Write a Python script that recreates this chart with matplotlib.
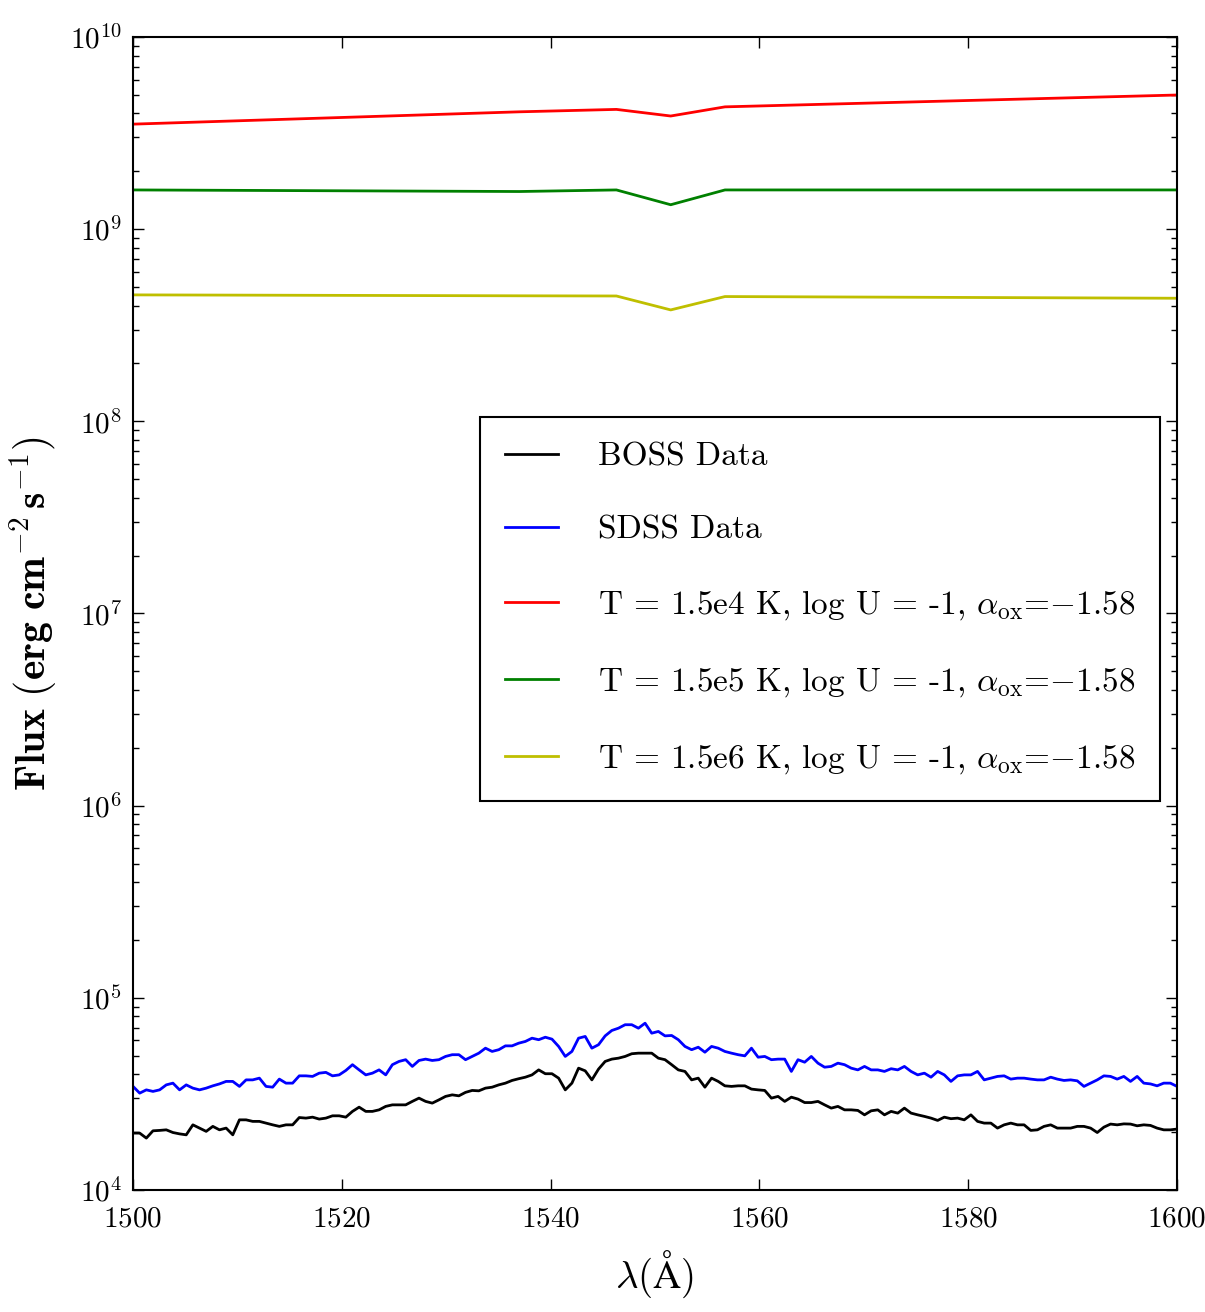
import numpy as np
import matplotlib
matplotlib.use("Agg")
import matplotlib.pyplot as plt
from matplotlib.ticker import FuncFormatter, LogLocator, FixedLocator, NullLocator

# ---------------- data ----------------
wl_min, wl_max, n_pix = 1500.0, 1600.0, 158

boss_log_flux = [
    4.296, 4.296, 4.270, 4.308, 4.310, 4.313, 4.299, 4.292, 4.287, 4.339,
    4.322, 4.305, 4.331, 4.313, 4.322, 4.287, 4.365, 4.365, 4.357, 4.357,
    4.348, 4.339, 4.331, 4.339, 4.339, 4.377, 4.374, 4.379, 4.369, 4.374,
    4.386, 4.386, 4.379, 4.409, 4.431, 4.409, 4.409, 4.417, 4.435, 4.443,
    4.443, 4.443, 4.461, 4.478, 4.461, 4.452, 4.469, 4.487, 4.495, 4.490,
    4.508, 4.518, 4.516, 4.530,
    4.535, 4.547, 4.556, 4.570, 4.579, 4.587, 4.599, 4.625, 4.605, 4.605,
    4.582, 4.521, 4.556, 4.634, 4.620, 4.573, 4.629, 4.669, 4.681, 4.686,
    4.695, 4.709, 4.712, 4.712, 4.712, 4.686, 4.678, 4.652, 4.625, 4.617,
    4.573, 4.582, 4.535, 4.582, 4.565, 4.542, 4.539, 4.542, 4.542, 4.525,
    4.521, 4.518, 4.478, 4.487, 4.461, 4.483, 4.473, 4.455, 4.455, 4.461,
    4.443, 4.426, 4.435,
    4.417, 4.417, 4.414, 4.391, 4.412, 4.417, 4.391, 4.409, 4.400, 4.426,
    4.400, 4.391, 4.383, 4.374, 4.362, 4.379, 4.371, 4.374, 4.365, 4.391,
    4.357, 4.348, 4.348, 4.322, 4.339, 4.348, 4.339, 4.339, 4.310, 4.313,
    4.331, 4.339, 4.322, 4.322, 4.322, 4.331, 4.331, 4.322, 4.299, 4.327,
    4.343, 4.339, 4.344, 4.343, 4.334, 4.339, 4.336, 4.322, 4.313, 4.313,
    4.317,
]

sdss_log_flux = [
    4.539, 4.504, 4.521, 4.513, 4.521, 4.547, 4.556, 4.521, 4.547, 4.530,
    4.521, 4.530, 4.542, 4.552, 4.565, 4.565, 4.539, 4.573, 4.573, 4.582,
    4.539, 4.535, 4.577, 4.556, 4.556, 4.594, 4.594, 4.591, 4.608, 4.612,
    4.594, 4.599, 4.622, 4.652, 4.625, 4.599, 4.608, 4.625, 4.599, 4.652,
    4.669, 4.678, 4.643, 4.674, 4.681, 4.674, 4.678, 4.695, 4.704, 4.704,
    4.678, 4.695, 4.712, 4.738,
    4.721, 4.730, 4.750, 4.750, 4.764, 4.773, 4.790, 4.782, 4.795, 4.785,
    4.747, 4.695, 4.721, 4.790, 4.799, 4.738, 4.756, 4.802, 4.830, 4.842,
    4.860, 4.860, 4.842, 4.868, 4.816, 4.825, 4.802, 4.804, 4.782, 4.747,
    4.730, 4.743, 4.717, 4.747, 4.738, 4.721, 4.712, 4.704, 4.698, 4.738,
    4.691, 4.695, 4.678, 4.681, 4.681, 4.617, 4.678, 4.665, 4.695, 4.660,
    4.639, 4.643, 4.660,
    4.652, 4.634, 4.625, 4.643, 4.625, 4.625, 4.617, 4.631, 4.625, 4.643,
    4.617, 4.599, 4.608, 4.587, 4.617, 4.599, 4.565, 4.594, 4.599, 4.599,
    4.617, 4.573, 4.582, 4.591, 4.594, 4.577, 4.582, 4.582, 4.577, 4.573,
    4.573, 4.587, 4.577, 4.570, 4.573, 4.568, 4.539, 4.556, 4.573, 4.594,
    4.591, 4.577, 4.591, 4.565, 4.591, 4.556, 4.552, 4.542, 4.556, 4.556,
    4.539,
]

model_wavelength = [1500.0, 1537.0, 1546.3, 1551.5, 1556.7, 1600.0]
model_t15e4 = [3.52e9, 4.08e9, 4.20e9, 3.88e9, 4.33e9, 4.99e9]
model_t15e5 = [1.60e9, 1.57e9, 1.60e9, 1.34e9, 1.60e9, 1.60e9]
model_t15e6 = [4.55e8, 4.50e8, 4.49e8, 3.80e8, 4.46e8, 4.37e8]

labels = [
    "BOSS Data",
    "SDSS Data",
    r"T = 1.5e4 K, log U = -1, $\alpha_{\rm ox}$=$-1.58$",
    r"T = 1.5e5 K, log U = -1, $\alpha_{\rm ox}$=$-1.58$",
    r"T = 1.5e6 K, log U = -1, $\alpha_{\rm ox}$=$-1.58$",
]
colors = ["k", "b", "r", "g", (0.75, 0.75, 0.0)]

x_ticks = [1500, 1520, 1540, 1560, 1580, 1600]

# ---------------- style ----------------
plt.rcParams["font.family"] = ["cmr10", "DejaVu Serif"]
plt.rcParams["mathtext.fontset"] = "cm"
plt.rcParams["axes.unicode_minus"] = False
plt.rcParams["axes.formatter.use_mathtext"] = True

wavelength = np.linspace(wl_min, wl_max, n_pix)
boss = 10 ** np.array(boss_log_flux)
sdss = 10 ** np.array(sdss_log_flux)

fig = plt.figure(figsize=(12.05, 13.12), dpi=100)
ax = fig.add_axes([0.1104, 0.0930, 0.8664, 0.8788])

lw = 2.0
ax.plot(wavelength, boss, color=colors[0], lw=lw, label=labels[0])
ax.plot(wavelength, sdss, color=colors[1], lw=lw, label=labels[1])
ax.plot(model_wavelength, model_t15e4, color=colors[2], lw=lw, label=labels[2])
ax.plot(model_wavelength, model_t15e5, color=colors[3], lw=lw, label=labels[3])
ax.plot(model_wavelength, model_t15e6, color=colors[4], lw=lw, label=labels[4])

ax.set_yscale("log")
ax.set_xlim(wl_min, wl_max)
ax.set_ylim(1e4, 1e10)

ax.xaxis.set_major_locator(FixedLocator(x_ticks))
ax.xaxis.set_minor_locator(NullLocator())
ax.xaxis.set_major_formatter(FuncFormatter(lambda v, p: r"$\mathbf{%d}$" % v))
ax.yaxis.set_major_locator(LogLocator(base=10, numticks=20))
ax.yaxis.set_minor_locator(LogLocator(base=10, subs=np.arange(2, 10), numticks=20))
ax.yaxis.set_major_formatter(FuncFormatter(lambda v, p: r"$\mathbf{10^{%d}}$" % round(np.log10(v))))

ax.tick_params(which="both", direction="in", top=True, right=True, width=1.0)
ax.tick_params(which="major", length=8, labelsize=21)
ax.tick_params(which="minor", length=4)
ax.tick_params(axis="x", pad=12)
ax.tick_params(axis="y", pad=8)
for s in ax.spines.values():
    s.set_linewidth(1.5)

ax.set_xlabel(r"$\lambda(\mathrm{\AA})$", fontsize=28, labelpad=11)
ax.set_ylabel(r"$\mathbf{Flux\ (erg\ cm^{-2}\,s^{-1})}$", fontsize=30, labelpad=8)

leg = ax.legend(loc="upper right", bbox_to_anchor=(0.984, 0.670), fontsize=24,
                frameon=True, fancybox=False, framealpha=1.0, edgecolor="k",
                handlelength=1.6, handletextpad=1.2, labelspacing=1.3,
                borderpad=0.75, borderaxespad=0.0)
leg.get_frame().set_linewidth(1.5)

fig.savefig("out.png", dpi=100)
